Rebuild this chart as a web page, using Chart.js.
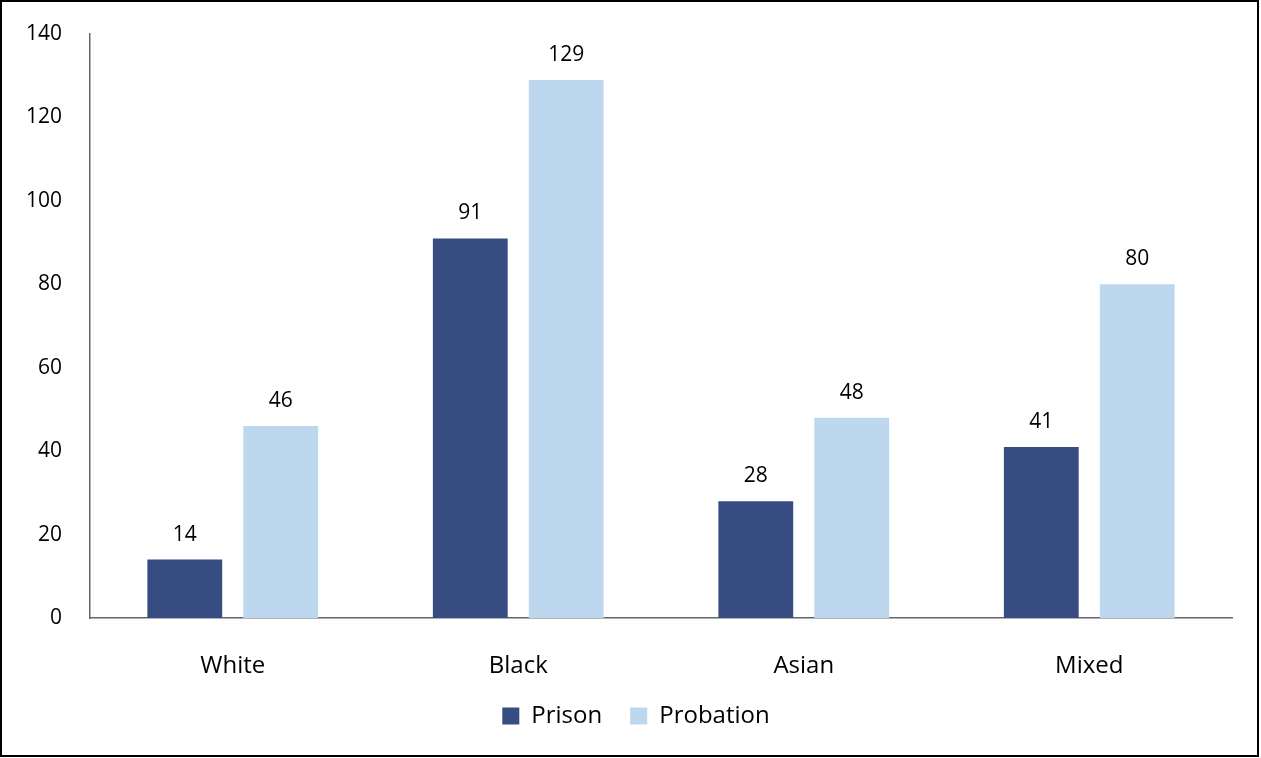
<!DOCTYPE html>
<html>
<head>
<meta charset="utf-8">
<script src="https://cdn.jsdelivr.net/npm/chart.js@4"></script>
<style>
  html, body { margin: 0; padding: 0; background: #fff; }
  #wrap { position: absolute; left: 0; top: 0; width: 1261px; height: 758px; }
</style>
</head>
<body>
<div id="wrap"><canvas id="chart" width="1261" height="758"></canvas></div>
<script>
const categories = ["White", "Black", "Asian", "Mixed"];
const prisonValues = [14, 91, 28, 41];
const probationValues = [46, 129, 48, 80];
const yTicks = [0, 20, 40, 60, 80, 100, 120, 140];

const FONT = "'Open Sans', 'Noto Sans', sans-serif";

// draw the value above each bar
const valueLabels = {
  id: "valueLabels",
  afterDatasetsDraw(chart) {
    const ctx = chart.ctx;
    ctx.save();
    ctx.font = "21px " + FONT;
    ctx.fillStyle = "#000";
    ctx.textAlign = "center";
    ctx.textBaseline = "middle";
    chart.data.datasets.forEach((ds, i) => {
      chart.getDatasetMeta(i).data.forEach((bar, j) => {
        ctx.fillText(ds.data[j], bar.x, bar.y - 25);
      });
    });
    ctx.restore();
  },
};

// nudge legend to the right, like the original
const legendShift = {
  id: "legendShift",
  afterLayout(chart) {
    if (chart.legend) {
      chart.legend.left += 40;
    }
  },
};

// outer frame
const frame = {
  id: "frame",
  afterDraw(chart) {
    const ctx = chart.ctx;
    ctx.save();
    ctx.strokeStyle = "#000";
    ctx.lineWidth = 2;
    ctx.strokeRect(1, 1, 1257, 755);
    ctx.restore();
  },
};

const ctx = document.getElementById("chart").getContext("2d");
new Chart(ctx, {
  type: "bar",
  data: {
    labels: categories,
    datasets: [
      { label: "Prison", data: prisonValues, backgroundColor: "#374C80" },
      { label: "Probation", data: probationValues, backgroundColor: "#BDD7EE" },
    ],
  },
  options: {
    responsive: false,
    animation: false,
    events: [],
    categoryPercentage: 0.672,
    barPercentage: 0.78,
    layout: { padding: { left: 0, right: 29, top: 34, bottom: 20 } },
    plugins: {
      tooltip: { enabled: false },
      legend: {
        position: "bottom",
        labels: {
          boxWidth: 17,
          boxHeight: 17,
          padding: 28,
          color: "#000",
          font: { family: FONT, size: 24 },
        },
      },
    },
    scales: {
      x: {
        grid: { display: false },
        border: { display: true, color: "#666", width: 1.5 },
        ticks: { color: "#000", padding: 26, font: { family: FONT, size: 24 } },
        afterFit(scale) { scale.height = 58; },
      },
      y: {
        min: 0,
        max: 140,
        afterBuildTicks(scale) { scale.ticks = yTicks.map((v) => ({ value: v })); },
        grid: { display: false, drawTicks: false },
        border: { display: true, color: "#666", width: 1.5 },
        ticks: { color: "#000", padding: 28, font: { family: FONT, size: 21 } },
        afterFit(scale) {
          scale.width = 90;
          scale.paddingTop = 0;
          scale.paddingBottom = 0;
        },
      },
    },
  },
  plugins: [valueLabels, legendShift, frame],
});
</script>
</body>
</html>
